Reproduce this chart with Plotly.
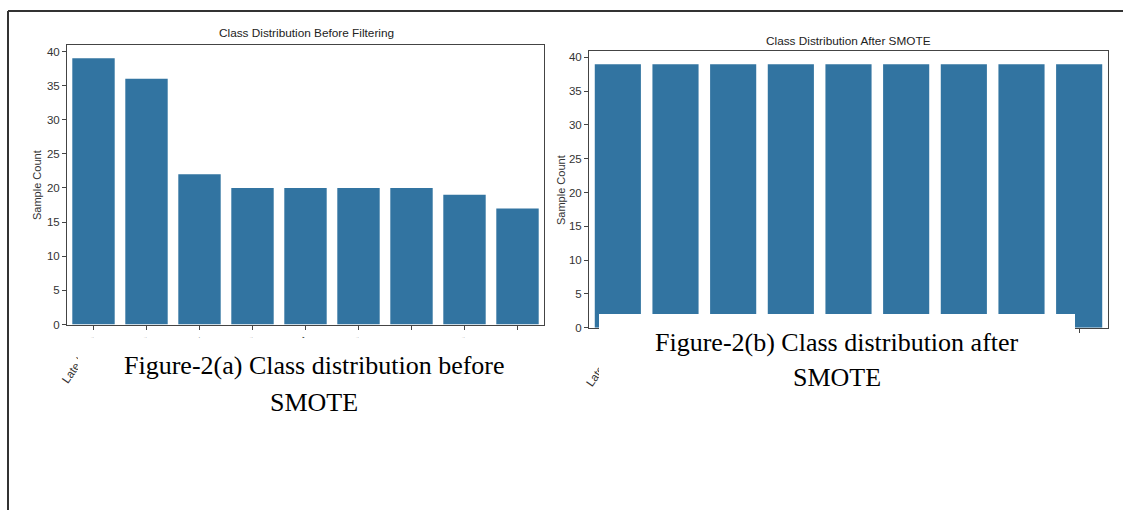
import plotly.graph_objects as go

W, H = 1123, 510

# class labels (x categories) and per-class sample counts
classes = [
    "Late blight", "Early blight", "Healthy", "Bacterial spot", "Leaf mold",
    "Septoria leaf spot", "Spider mites", "Target spot", "Mosaic virus",
]
counts_before = [39, 36, 22, 20, 20, 20, 20, 19, 17]
counts_after = [39, 39, 39, 39, 39, 39, 39, 39, 39]
y_ticks = [0, 5, 10, 15, 20, 25, 30, 35, 40]

BAR = "#3274a1"
AXC = "#444444"
SANS = "Liberation Sans, Arial, sans-serif"
SERIF = "Liberation Serif, Times New Roman, serif"


def px_x(x):
    return x / W


def px_y(y):
    return 1 - y / H


fig = go.Figure()
fig.add_trace(go.Bar(x=classes, y=counts_before, xaxis="x", yaxis="y",
                     marker=dict(color=BAR, line=dict(width=0)), width=0.8))
fig.add_trace(go.Bar(x=classes, y=counts_after, xaxis="x2", yaxis="y2",
                     marker=dict(color=BAR, line=dict(width=0)), width=0.8))

xcommon = dict(type="category", range=[-0.5, 8.5], showline=True, mirror=True,
               linecolor=AXC, linewidth=1, ticks="outside", ticklen=4,
               tickcolor=AXC, tickangle=-55, showgrid=False, zeroline=False,
               automargin=False,
               tickfont=dict(family=SANS, size=11.5, color="#333"))
ycommon = dict(range=[0, 40.95], tickvals=y_ticks, showline=True, mirror=True,
               linecolor=AXC, linewidth=1, ticks="outside", ticklen=4,
               tickcolor=AXC, showgrid=False, zeroline=False,
               automargin=False,
               tickfont=dict(family=SANS, size=11.5, color="#333"))

fig.update_layout(
    width=W, height=H,
    margin=dict(l=0, r=0, t=0, b=0),
    paper_bgcolor="white", plot_bgcolor="white",
    showlegend=False, bargap=0.2,
    xaxis=dict(xcommon, domain=[px_x(67), px_x(544)], anchor="y"),
    yaxis=dict(ycommon, domain=[px_y(324.5), px_y(45)], anchor="x"),
    xaxis2=dict(xcommon, domain=[px_x(589), px_x(1108)], anchor="y2"),
    yaxis2=dict(ycommon, domain=[px_y(327.7), px_y(51)], anchor="x2"),
)

shapes = [
    # page frame (top and left rules)
    dict(type="line", xref="paper", yref="paper", x0=px_x(8), x1=1,
         y0=px_y(11), y1=px_y(11), line=dict(color="#333", width=2)),
    dict(type="line", xref="paper", yref="paper", x0=px_x(8), x1=px_x(8),
         y0=0, y1=px_y(11), line=dict(color="#333", width=2)),
    # white caption panels
    dict(type="rect", xref="paper", yref="paper", layer="above",
         x0=px_x(78), x1=px_x(570), y0=px_y(440), y1=px_y(338),
         fillcolor="white", line=dict(width=0)),
    dict(type="rect", xref="paper", yref="paper", layer="above",
         x0=px_x(599), x1=px_x(1075), y0=px_y(420), y1=px_y(314),
         fillcolor="white", line=dict(width=0)),
    dict(type="rect", xref="paper", yref="paper", layer="above",
         x0=px_x(1075), x1=px_x(1110), y0=px_y(420), y1=px_y(336),
         fillcolor="white", line=dict(width=0)),
]

annotations = [
    dict(text="Class Distribution Before Filtering", x=px_x(306), y=px_y(33.5)),
    dict(text="Class Distribution After SMOTE", x=px_x(848), y=px_y(41)),
]
for a in annotations:
    a.update(xref="paper", yref="paper", showarrow=False, xanchor="center",
             yanchor="middle", font=dict(family=SANS, size=11.8, color="#222"))

for xc, yc in [(37, 185), (561, 190)]:
    annotations.append(dict(text="Sample Count", x=px_x(xc), y=px_y(yc),
                            xref="paper", yref="paper", showarrow=False,
                            textangle=-90, xanchor="center", yanchor="middle",
                            font=dict(family=SANS, size=11, color="#333")))

captions = [
    ("Figure-2(a) Class distribution before", 314, 365),
    ("SMOTE", 314, 402),
    ("Figure-2(b) Class distribution after", 837, 342),
    ("SMOTE", 837, 377),
]
for txt, xc, yc in captions:
    annotations.append(dict(text=txt, x=px_x(xc), y=px_y(yc), xref="paper",
                            yref="paper", showarrow=False, xanchor="center",
                            yanchor="middle",
                            font=dict(family=SERIF, size=26, color="black")))

fig.update_layout(shapes=shapes, annotations=annotations)

fig.write_html("out.html")
